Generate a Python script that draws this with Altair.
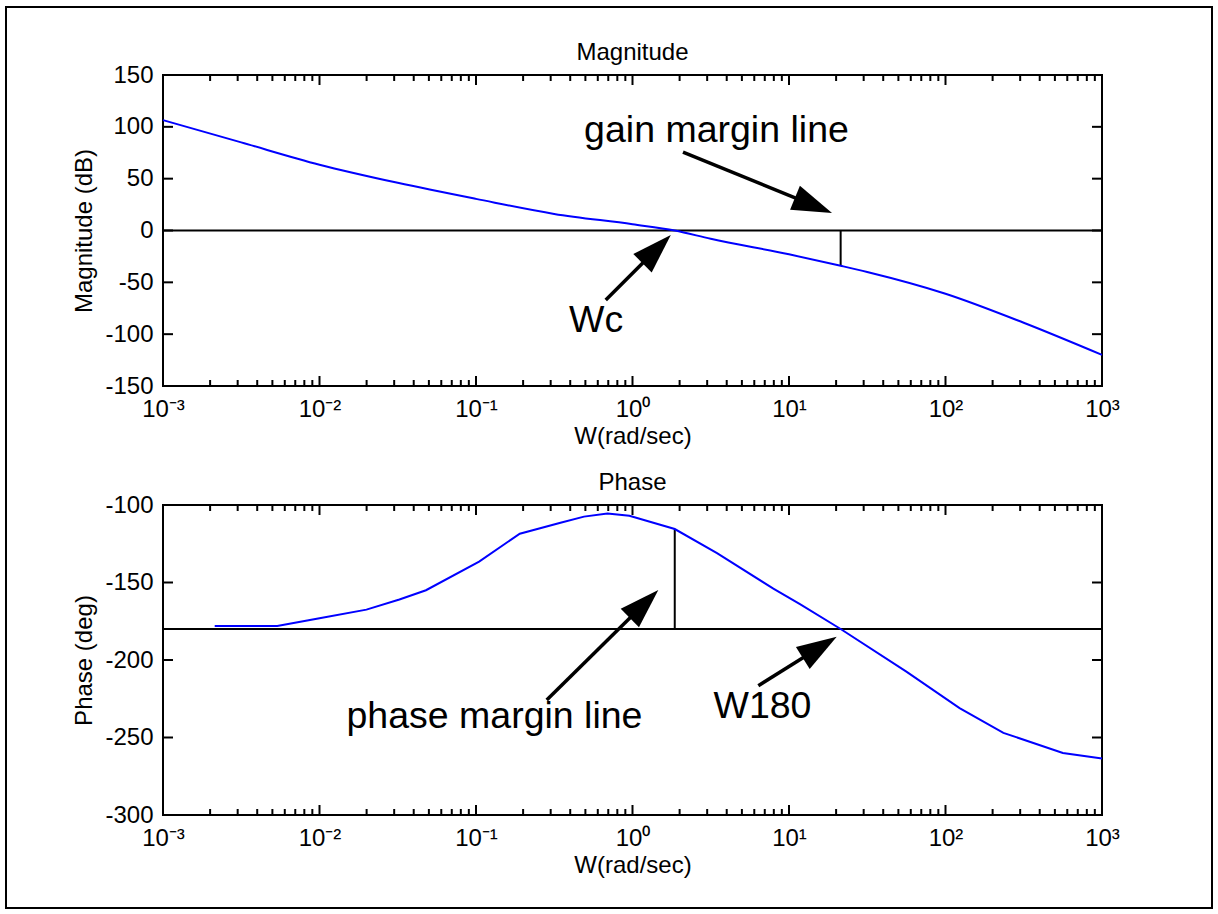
import json
import math

import pandas as pd
import altair as alt

FONT = "Liberation Sans"

# ---- open-loop frequency response, w in rad/sec ----
mag_w = [0.001, 0.00316, 0.01, 0.0316, 0.1, 0.316, 1.0, 1.862, 3.16, 10.0,
         21.38, 31.6, 100.0, 316.0, 1000.0]
mag_db = [106.5, 85.0, 63.5, 46.0, 30.5, 16.0, 6.0, 0.0, -8.0, -23.0,
          -34.0, -40.0, -61.0, -89.0, -120.0]

phase_w = [0.00214, 0.00537, 0.01, 0.01995, 0.0324, 0.0479, 0.1047, 0.1905,
           0.3467, 0.4898, 0.6918, 0.955, 1.862, 3.467, 7.943, 11.75, 21.38,
           56.23, 123.0, 234.4, 562.3, 1000.0]
phase_deg = [-178.0, -178.0, -173.0, -167.5, -161.0, -155.0, -136.5, -118.5,
             -111.5, -107.5, -105.5, -107.0, -115.5, -131.0, -154.0, -164.0,
             -180.0, -207.5, -231.0, -247.0, -260.0, -263.5]

# crossover frequencies and the margins read at them
w_c = 1.862
w_180 = 21.38
gain_at_w180 = -34.0
phase_at_wc = -115.5

# axis ticks and labels
decade_labels = ["10⁻³", "10⁻²", "10⁻¹", "10⁰", "10¹", "10²", "10³"]
mag_ticks = [-150, -100, -50, 0, 50, 100, 150]
phase_ticks = [-300, -250, -200, -150, -100]

# annotation texts (anchor = centre of baseline)
top_note_text = ["gain margin line", "Wc"]
top_note_w = [3.44, 0.585]
top_note_v = [85.3, -97.9]
bot_note_text = ["phase margin line", "W180"]
bot_note_w = [0.1312, 6.77]
bot_note_v = [-243.9, -237.4]

# annotation arrows: tail -> tip
top_arrow_from_w = [2.102, 0.6745]
top_arrow_from_v = [75.7, -67.0]
top_arrow_to_w = [18.83, 1.757]
top_arrow_to_v = [16.9, -4.3]
bot_arrow_from_w = [0.2831, 6.368]
bot_arrow_from_v = [-225.8, -216.6]
bot_arrow_to_w = [1.462, 20.18]
bot_arrow_to_v = [-154.8, -185.0]

# ---- layout (pixels inside the framed view) ----
W, H = 1206, 901
X0, X1 = 157, 1096
TOP_RANGE = [379, 68]
BOT_RANGE = [808, 498]
MAG_DOMAIN = [-150, 150]
PHASE_DOMAIN = [-300, -100]

SMALL = 24      # tick labels, axis titles, panel titles
NOTE = 37.5     # annotation text
HEAD_LEN = 40
HEAD_PATH = "M0,0L-0.65,2L0.65,2Z"

decades = [10.0 ** k for k in range(-3, 4)]
minor = [m * 10.0 ** k for k in range(-3, 3) for m in range(2, 10)]
label_expr = json.dumps(decade_labels, ensure_ascii=False) + "[round(log(datum.value) / LN10) + 3]"


def to_px(w, v, ydomain, yrange):
    x = X0 + (math.log10(w) + 3) / 6 * (X1 - X0)
    y = yrange[0] + (v - ydomain[0]) / (ydomain[1] - ydomain[0]) * (yrange[1] - yrange[0])
    return x, y


def arrow_table(fw, fv, tw, tv, ydomain, yrange):
    rows = []
    for a, b, c, d in zip(fw, fv, tw, tv):
        x0, y0 = to_px(a, b, ydomain, yrange)
        x1, y1 = to_px(c, d, ydomain, yrange)
        dx, dy = x1 - x0, y1 - y0
        length = math.hypot(dx, dy)
        ang = math.degrees(math.atan2(dx, -dy)) % 360
        f = 1 - (HEAD_LEN * 0.5) / length
        la, lc = math.log10(a), math.log10(c)
        rows.append({
            "w0": a, "v0": b,
            "w1": 10 ** (la + f * (lc - la)), "v1": b + f * (d - b),
            "wt": c, "vt": d, "ang": ang,
        })
    return pd.DataFrame(rows)


def panel(curve_w, curve_v, curve_interp, ydomain, yrange, yvalues, ytitle, title,
          ref_value, margin_w, margin_v0, margin_v1, notes, arrows):
    xs = alt.Scale(type="log", domain=[1e-3, 1e3], range=[X0, X1], nice=False)
    ys = alt.Scale(domain=ydomain, range=yrange, nice=False, zero=False)
    # one axis definition per channel, shared by every layer of the panel
    xa = alt.Axis(
        orient="bottom", offset=-(H - yrange[0]), values=decades,
        labelExpr=label_expr, ticks=False, tickSize=0, domain=False, grid=False,
        labelPadding=11, labelFont=FONT, labelFontSize=SMALL, labelColor="black",
        labelFlush=False, labelOverlap=False,
        title="W(rad/sec)", titleFont=FONT, titleFontSize=SMALL,
        titleFontWeight="normal", titleColor="black", titlePadding=3)
    ya = alt.Axis(
        orient="left", offset=-X0, values=yvalues, labelExpr="'' + datum.value",
        ticks=False, tickSize=0, domain=False, grid=False,
        labelPadding=10, labelFont=FONT, labelFontSize=SMALL, labelColor="black",
        labelFlush=False, labelOverlap=False,
        title=ytitle, titleFont=FONT, titleFontSize=SMALL,
        titleFontWeight="normal", titleColor="black", titlePadding=8)
    ylo, yhi = ydomain
    one = pd.DataFrame({"k": [0]})

    def xf(field):
        return alt.X(field, type="quantitative", scale=xs, axis=xa)

    def yf(field):
        return alt.Y(field, type="quantitative", scale=ys, axis=ya)

    def xd(v):
        return alt.XDatum(v, type="quantitative", scale=xs, axis=xa)

    def yd(v):
        return alt.YDatum(v, type="quantitative", scale=ys, axis=ya)

    layers = []
    # box around the plot area
    layers.append(
        alt.Chart(one).mark_rect(fillOpacity=0, stroke="black", strokeWidth=2).encode(
            x=xd(1e-3), x2=alt.X2Datum(1e3), y=yd(ylo), y2=alt.Y2Datum(yhi)))
    # inward ticks on the bottom and top edges
    for vals, ln in ((decades, 10), (minor, 6)):
        tdf = pd.DataFrame({"w": vals})
        for edge, off in ((ylo, -ln), (yhi, ln)):
            layers.append(
                alt.Chart(tdf).mark_rule(color="black", strokeWidth=2, y2Offset=off).encode(
                    x=xf("w"), y=yd(edge), y2=alt.Y2Datum(edge)))
    # inward ticks on the left and right edges
    ydf = pd.DataFrame({"v": yvalues})
    for edge, off in ((1e-3, 10), (1e3, -10)):
        layers.append(
            alt.Chart(ydf).mark_rule(color="black", strokeWidth=2, x2Offset=off).encode(
                y=yf("v"), x=xd(edge), x2=alt.X2Datum(edge)))
    # reference level and margin line
    layers.append(
        alt.Chart(one).mark_rule(color="black", strokeWidth=2).encode(
            x=xd(1e-3), x2=alt.X2Datum(1e3), y=yd(ref_value)))
    layers.append(
        alt.Chart(one).mark_rule(color="black", strokeWidth=2).encode(
            x=xd(margin_w), y=yd(margin_v0), y2=alt.Y2Datum(margin_v1)))
    # response curve
    cdf = pd.DataFrame({"w": curve_w, "v": curve_v})
    layers.append(
        alt.Chart(cdf).mark_line(color="#0000ff", strokeWidth=2, interpolate=curve_interp).encode(
            x=xf("w"), y=yf("v")))
    # arrows
    layers.append(
        alt.Chart(arrows).mark_rule(color="black", strokeWidth=3.5).encode(
            x=xf("w0"), y=yf("v0"), x2="w1:Q", y2="v1:Q"))
    layers.append(
        alt.Chart(arrows).mark_point(shape=HEAD_PATH, filled=True, size=HEAD_LEN ** 2,
                                     color="black", opacity=1, strokeWidth=0).encode(
            x=xf("wt"), y=yf("vt"), angle=alt.Angle("ang:Q", scale=None)))
    # annotation text
    layers.append(
        alt.Chart(notes).mark_text(font=FONT, fontSize=NOTE, align="center",
                                   baseline="alphabetic", color="black").encode(
            x=xf("w"), y=yf("v"), text="t:N"))
    # panel title
    layers.append(
        alt.Chart(one).mark_text(text=title, font=FONT, fontSize=SMALL, dy=-15,
                                 baseline="alphabetic", align="center", color="black").encode(
            x=xd(1.0), y=yd(yhi)))
    return alt.layer(*layers)


top = panel(
    mag_w, mag_db, "monotone", MAG_DOMAIN, TOP_RANGE, mag_ticks, "Magnitude (dB)", "Magnitude",
    0, w_180, 0, gain_at_w180,
    pd.DataFrame({"t": top_note_text, "w": top_note_w, "v": top_note_v}),
    arrow_table(top_arrow_from_w, top_arrow_from_v, top_arrow_to_w, top_arrow_to_v,
                MAG_DOMAIN, TOP_RANGE))

bottom = panel(
    phase_w, phase_deg, "linear", PHASE_DOMAIN, BOT_RANGE, phase_ticks, "Phase (deg)", "Phase",
    -180, w_c, -180, phase_at_wc,
    pd.DataFrame({"t": bot_note_text, "w": bot_note_w, "v": bot_note_v}),
    arrow_table(bot_arrow_from_w, bot_arrow_from_v, bot_arrow_to_w, bot_arrow_to_v,
                PHASE_DOMAIN, BOT_RANGE))

chart = (
    alt.layer(top, bottom)
    .resolve_scale(x="independent", y="independent")
    .properties(width=W, height=H,
                padding={"left": 6, "top": 7, "right": 6, "bottom": 6},
                autosize=alt.AutoSizeParams(type="none"),
                background="white")
    .configure_view(stroke="black", strokeWidth=2)
)

chart.save("out.html", embed_options={"renderer": "svg", "actions": False})
